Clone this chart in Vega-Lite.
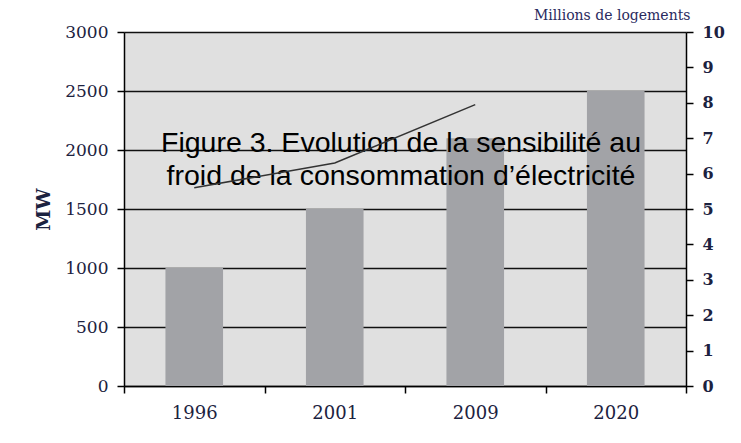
{
  "$schema": "https://vega.github.io/schema/vega-lite/v6.json",
  "width": 562,
  "height": 354,
  "autosize": "none",
  "padding": {"left": 124, "top": 32, "right": 55, "bottom": 57},
  "background": "white",
  "config": {"view": {"fill": "#e0e0e0", "stroke": null}},
  "datasets": {
    "mw": [
      {"year": "1996", "mw": 1000},
      {"year": "2001", "mw": 1500},
      {"year": "2009", "mw": 2100},
      {"year": "2020", "mw": 2500}
    ],
    "homes": [
      {"year": "1996", "millions": 5.6},
      {"year": "2001", "millions": 6.3},
      {"year": "2009", "millions": 7.95}
    ],
    "caption": [
      {"year": "2001", "mw": 1985, "text": ["Figure 3. Evolution de la sensibilité au", "froid de la consommation d’électricité"]}
    ]
  },
  "layer": [
    {
      "layer": [
        {
          "data": {"name": "mw"},
          "mark": {"type": "bar", "width": {"band": 0.41}, "color": "#a2a3a7"},
          "encoding": {
            "x": {
              "field": "year", "type": "nominal", "sort": null,
              "scale": {"paddingInner": 0, "paddingOuter": 0},
              "axis": {
                "title": null, "labelAngle": 0, "tickBand": "extent", "tickSize": 7, "tickColor": "black", "tickWidth": 1.5,
                "domainColor": "black", "domainWidth": 1.5, "labelFont": "DejaVu Serif", "labelFontSize": 18,
                "labelColor": "#1c2240", "labelPadding": 11, "grid": false
              }
            },
            "y": {
              "field": "mw", "type": "quantitative", "scale": {"domain": [0, 3000]},
              "axis": {
                "title": "MW", "titleFont": "DejaVu Serif", "titleFontSize": 19, "titleFontWeight": "bold", "titleColor": "#1c2240",
                "titleX": -81, "titleAngle": -90, "titleBaseline": "middle",
                "values": [0, 500, 1000, 1500, 2000, 2500, 3000], "format": "d",
                "grid": true, "gridColor": "#111", "gridWidth": 1.5,
                "tickSize": 7, "tickColor": "black", "tickWidth": 1.5, "domainColor": "black", "domainWidth": 1.5,
                "labelFont": "DejaVu Serif", "labelFontSize": 17, "labelColor": "#1c2240", "labelPadding": 9
              }
            }
          }
        },
        {
          "data": {"name": "caption"},
          "mark": {"type": "text", "font": "Liberation Sans", "fontSize": 28.5, "lineHeight": 33, "align": "center", "baseline": "alphabetic", "color": "black", "xOffset": -4},
          "encoding": {
            "x": {"field": "year", "type": "nominal", "bandPosition": 1},
            "y": {"field": "mw", "type": "quantitative"},
            "text": {"field": "text"}
          }
        }
      ]
    },
    {
      "data": {"name": "homes"},
      "mark": {"type": "line", "color": "#333333", "strokeWidth": 1.5},
      "encoding": {
        "x": {"field": "year", "type": "nominal", "sort": null},
        "y": {
          "field": "millions", "type": "quantitative", "scale": {"domain": [0, 10]},
          "axis": {
            "orient": "right", "title": "Millions de logements", "titleAngle": 0, "titleX": 4, "titleY": -13,
            "titleAlign": "right", "titleBaseline": "alphabetic", "titleFont": "DejaVu Serif", "titleFontSize": 14,
            "titleFontWeight": "normal", "titleColor": "#2a2a5e",
            "values": [0, 1, 2, 3, 4, 5, 6, 7, 8, 9, 10], "format": "d", "grid": false,
            "tickSize": 7, "tickColor": "black", "tickWidth": 1.5, "domainColor": "black", "domainWidth": 1.5,
            "labelFont": "DejaVu Serif", "labelFontSize": 16, "labelFontWeight": "bold", "labelColor": "#1c2240", "labelPadding": 9
          }
        }
      }
    }
  ],
  "resolve": {"scale": {"y": "independent"}}
}
